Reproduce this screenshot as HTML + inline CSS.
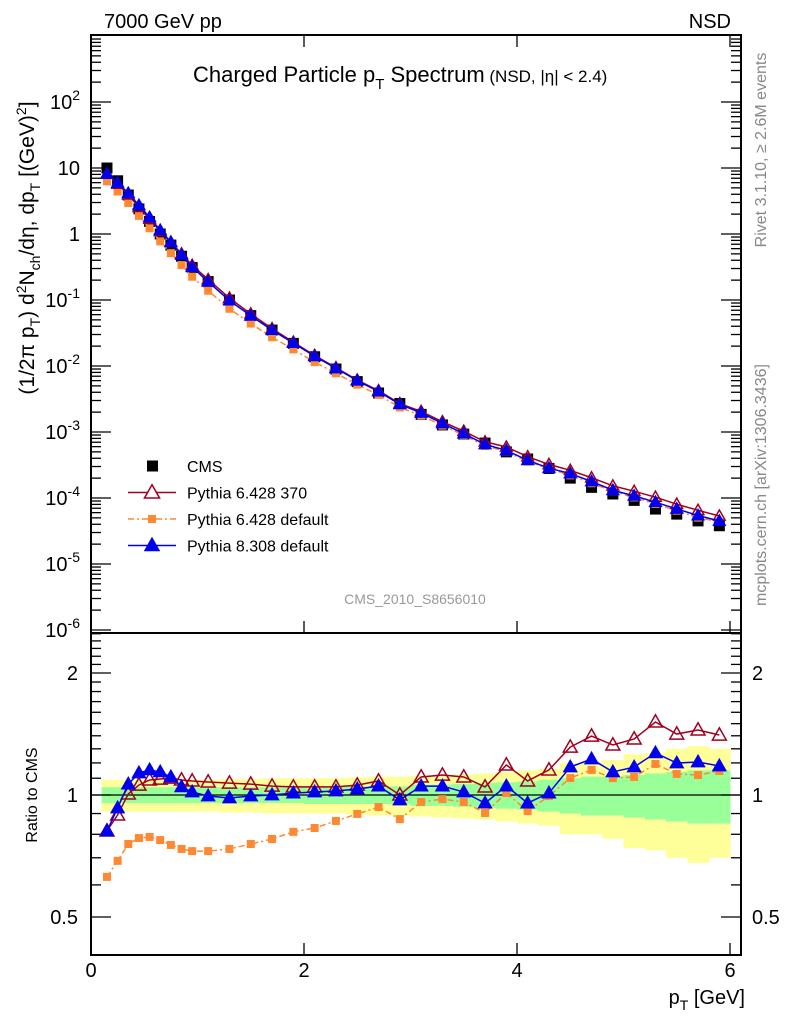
<!DOCTYPE html>
<html><head><meta charset="utf-8"><style>
body{margin:0;background:#fff}
svg{display:block;font-family:"Liberation Sans",sans-serif}
</style></head><body>
<svg id="c" width="786" height="1024" xmlns="http://www.w3.org/2000/svg"></svg>
<script>
const xs=[0.15,0.25,0.35,0.45,0.55,0.65,0.75,0.85,0.95,1.1,1.3,1.5,1.7,1.9,2.1,2.3,2.5,2.7,2.9,3.1,3.3,3.5,3.7,3.9,4.1,4.3,4.5,4.7,4.9,5.1,5.3,5.5,5.7,5.9];
const edges=[0.1,0.2,0.3,0.4,0.5,0.6,0.7,0.8,0.9,1.0,1.2,1.4,1.6,1.8,2.0,2.2,2.4,2.6,2.8,3.0,3.2,3.4,3.6,3.8,4.0,4.2,4.4,4.6,4.8,5.0,5.2,5.4,5.6,5.8,6.0];
const cms=[10,6.4,3.9,2.4,1.55,1.0,0.68,0.46,0.31,0.19,0.1,0.058,0.035,0.022,0.0138,0.009,0.0058,0.0039,0.0027,0.00185,0.00128,0.00093,0.00068,0.0005,0.00039,0.00028,0.0002,0.000145,0.000115,0.000092,0.000068,0.000057,0.000045,0.000038];
const ratioP6370=[0.815,0.893,1.006,1.058,1.089,1.095,1.101,1.089,1.083,1.077,1.070,1.064,1.052,1.047,1.047,1.047,1.058,1.083,1.0,1.108,1.120,1.108,1.047,1.186,1.083,1.153,1.313,1.398,1.329,1.375,1.514,1.414,1.447,1.406];
const ratioP6def=[0.628,0.688,0.757,0.783,0.788,0.774,0.753,0.736,0.727,0.727,0.736,0.757,0.779,0.811,0.829,0.863,0.898,0.934,0.872,0.961,0.977,0.961,0.903,1.011,0.913,0.994,1.101,1.153,1.101,1.108,1.193,1.127,1.120,1.146];
const ratioP8=[0.815,0.929,1.064,1.133,1.153,1.140,1.108,1.047,1.017,0.994,0.983,0.994,1.0,1.011,1.017,1.023,1.035,1.052,0.972,1.052,1.052,1.017,0.955,1.052,0.955,1.011,1.172,1.227,1.140,1.172,1.270,1.199,1.206,1.179];
const errStat=[0.045,0.045,0.045,0.045,0.045,0.045,0.045,0.045,0.045,0.045,0.045,0.045,0.045,0.045,0.05,0.05,0.05,0.05,0.05,0.06,0.06,0.065,0.07,0.075,0.08,0.09,0.1,0.11,0.11,0.12,0.13,0.14,0.15,0.15];
const errTot=[0.09,0.09,0.09,0.09,0.09,0.09,0.09,0.09,0.09,0.09,0.095,0.095,0.1,0.1,0.1,0.1,0.105,0.11,0.11,0.115,0.12,0.125,0.13,0.14,0.15,0.16,0.2,0.2,0.22,0.26,0.27,0.3,0.32,0.3];
const mainTicks=[2,1,0,-1,-2,-3,-4,-5,-6];
const ratioTicks=[0.5,1,2];
const xTicks=[0,2,4,6];

const S=document.getElementById('c');const NS='http://www.w3.org/2000/svg';
function el(t,a,p){const e=document.createElementNS(NS,t);for(const k in a)e.setAttribute(k,a[k]);(p||S).appendChild(e);return e;}
const L=91,R=741,T=35,MB=633,RB=955;
const X=v=>L+v*106.5;
const YM=v=>630-(Math.log10(v)+6)*66;
const YR=v=>795-Math.log2(v)*122;

const gb=el('g',{});
for(let i=0;i<xs.length;i++){
 const x0=X(edges[i]),x1=X(edges[i+1]);
 const r1=el('rect',{x:x0,y:YR(1+errTot[i]),width:x1-x0+0.5,height:YR(1-errTot[i])-YR(1+errTot[i]),fill:'#ffff99'},gb);
 
}
for(let i=0;i<xs.length;i++){
 const x0=X(edges[i]),x1=X(edges[i+1]);
 const r2=el('rect',{x:x0,y:YR(1+errStat[i]),width:x1-x0+0.5,height:YR(1-errStat[i])-YR(1+errStat[i]),fill:'#99ff99'},gb);
 
}
el('line',{x1:L,x2:R,y1:YR(1),y2:YR(1),stroke:'#000','stroke-width':1.3});

el('rect',{x:L,y:T,width:R-L,height:MB-T,fill:'none',stroke:'#000','stroke-width':2});
el('rect',{x:L,y:MB,width:R-L,height:RB-MB,fill:'none',stroke:'#000','stroke-width':2});

for(let d=-7;d<=2;d++){for(let m=1;m<10;m++){const v=m*Math.pow(10,d);const y=YM(v);if(y<T||y>MB)continue;
 const len=m==1?20:10;el('line',{x1:L,x2:L+len,y1:y,y2:y,stroke:'#000','stroke-width':1.3});el('line',{x1:R-len,x2:R,y1:y,y2:y,stroke:'#000','stroke-width':1.3});}}
mainTicks.forEach(p=>{const y=YM(Math.pow(10,p));
 const t=el('text',{x:80,y:y+7,'text-anchor':'end','font-size':20});
 
 if(p==0)t.textContent='1';else if(p==1)t.textContent='10';else{t.textContent='10';const s=el('tspan',{dy:-9,'font-size':14},t);s.textContent=String(p);}
});
for(let v=0.4;v<=2.6;v+=0.1){const vv=Math.round(v*10)/10;const y=YR(vv);if(y<MB||y>RB)continue;const maj=[0.5,1,2].includes(vv);const len=maj?20:10;
 el('line',{x1:L,x2:L+len,y1:y,y2:y,stroke:'#000','stroke-width':1.3});el('line',{x1:R-len,x2:R,y1:y,y2:y,stroke:'#000','stroke-width':1.3});}
ratioTicks.forEach(v=>{const y=YR(v);
 const a=el('text',{x:78,y:y+7,'text-anchor':'end','font-size':20});a.textContent=String(v);
 const b=el('text',{x:752,y:y+7,'font-size':20});b.textContent=String(v);});
xTicks.forEach(v=>{const x=X(v);
 el('line',{x1:x,x2:x,y1:T,y2:T+12,stroke:'#000','stroke-width':1.3});
 el('line',{x1:x,x2:x,y1:MB-12,y2:MB,stroke:'#000','stroke-width':1.3});
 el('line',{x1:x,x2:x,y1:RB-12,y2:RB,stroke:'#000','stroke-width':1.3});
 const t=el('text',{x:x,y:977,'text-anchor':'middle','font-size':20});t.textContent=String(v);});

function tri(x,y,s,fill,stroke,g){return el('polygon',{points:`${x},${y-s*0.6} ${x-s*0.58},${y+s*0.42} ${x+s*0.58},${y+s*0.42}`,fill:fill,stroke:stroke,'stroke-width':1.5},g);}
function series(vals,Y,name,color,dash,marker,sz){
 const g=el('g',{});
 const pts=xs.map((x,i)=>X(x)+','+Y(vals[i])).join(' ');
 const pl=el('polyline',{points:pts,fill:'none',stroke:color,'stroke-width':1.5,'stroke-dasharray':dash||'none'},g);
 
 xs.forEach((x,i)=>{const cx=X(x),cy=Y(vals[i]);let m;
  if(marker=='open')m=tri(cx,cy,sz,'none',color,g);
  else if(marker=='tri')m=tri(cx,cy,sz,color,color,g);
  else m=el('rect',{x:cx-sz/2,y:cy-sz/2,width:sz,height:sz,fill:color},g);
  });
}
const gc=el('g',{});
xs.forEach((x,i)=>{const r=el('rect',{x:X(x)-5.5,y:YM(cms[i])-5.5,width:11,height:11,fill:'#000'},gc);});
series(cms.map((c,i)=>c*ratioP6def[i]),YM,'pythia6-default-main','#ff8833','6,3,2,3','sq',8);
series(cms.map((c,i)=>c*ratioP6370[i]),YM,'pythia6-370-main','#a00020',null,'open',10);
series(cms.map((c,i)=>c*ratioP8[i]),YM,'pythia8-main','#0000ee',null,'tri',10);
series(ratioP6def,YR,'pythia6-default-ratio','#ff8833','6,3,2,3','sq',8);
series(ratioP6370,YR,'pythia6-370-ratio','#a00020',null,'open',12);
series(ratioP8,YR,'pythia8-ratio','#0000ee',null,'tri',11);

const lg=el('g',{});
const ents=[['CMS','cms'],['Pythia 6.428 370','p6370'],['Pythia 6.428 default','p6def'],['Pythia 8.308 default','p8']];
ents.forEach((e,i)=>{const y=466+i*26.5;const ge=el('g',{},lg);
 if(e[1]=='cms')el('rect',{x:147,y:y-5.5,width:11,height:11,fill:'#000'},ge);
 if(e[1]=='p6370'){el('line',{x1:128,x2:176,y1:y,y2:y,stroke:'#a00020','stroke-width':1.5},ge);tri(152,y,13,'#fff','#a00020',ge);}
 if(e[1]=='p6def'){el('line',{x1:128,x2:176,y1:y,y2:y,stroke:'#ff8833','stroke-width':1.5,'stroke-dasharray':'6,3,2,3'},ge);el('rect',{x:148,y:y-4,width:8,height:8,fill:'#ff8833'},ge);}
 if(e[1]=='p8'){el('line',{x1:128,x2:176,y1:y,y2:y,stroke:'#0000ee','stroke-width':1.5},ge);tri(152,y,12,'#0000ee','#0000ee',ge);}
 const t=el('text',{x:187,y:y+6,'font-size':16},ge);t.textContent=e[0];});
</script>
<svg width="786" height="1024" style="position:absolute;left:0;top:0;font-family:'Liberation Sans',sans-serif" xmlns="http://www.w3.org/2000/svg">
<text x="104" y="28" font-size="20">7000 GeV pp</text>
<text x="731" y="28" font-size="20" text-anchor="end">NSD</text>
<text x="193" y="82" font-size="22">Charged Particle p<tspan dy="7" font-size="15">T</tspan><tspan dy="-7"> Spectrum</tspan><tspan font-size="17"> (NSD, |η| &lt; 2.4)</tspan></text>
<text x="415" y="604" font-size="14" fill="#999" text-anchor="middle">CMS_2010_S8656010</text>
<text transform="translate(766,150) rotate(-90)" font-size="16" fill="#888" text-anchor="middle">Rivet 3.1.10, ≥ 2.6M events</text>
<text transform="translate(766,485) rotate(-90)" font-size="16" fill="#888" text-anchor="middle">mcplots.cern.ch [arXiv:1306.3436]</text>
<text transform="translate(34,248) rotate(-90)" font-size="21" text-anchor="middle">(1/2π p<tspan dy="6" font-size="14">T</tspan><tspan dy="-6">) d</tspan><tspan dy="-8" font-size="14">2</tspan><tspan dy="8">N</tspan><tspan dy="6" font-size="14">ch</tspan><tspan dy="-6">/dη, dp</tspan><tspan dy="6" font-size="14">T</tspan><tspan dy="-6"> [(GeV)</tspan><tspan dy="-8" font-size="14">2</tspan><tspan dy="8">]</tspan></text>
<text transform="translate(37,795) rotate(-90)" font-size="16" text-anchor="middle">Ratio to CMS</text>
<text x="745" y="1004" font-size="20" text-anchor="end">p<tspan dy="6" font-size="14">T</tspan><tspan dy="-6"> [GeV]</tspan></text>
</svg>
</body></html>
